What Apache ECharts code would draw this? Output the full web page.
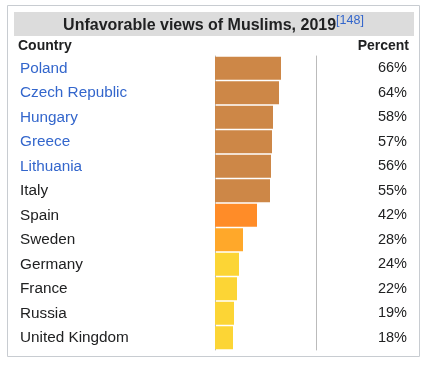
<!DOCTYPE html>
<html><head><meta charset="utf-8">
<script src="https://cdn.jsdelivr.net/npm/echarts@6/dist/echarts.min.js"></script>
<style>html,body{margin:0;padding:0;background:#fff}#c{width:427px;height:366px}</style>
</head><body><div id="c"></div>
<script>
const countries = ['Poland','Czech Republic','Hungary','Greece','Lithuania','Italy','Spain','Sweden','Germany','France','Russia','United Kingdom'];
const percents = [66,64,58,57,56,55,42,28,24,22,19,18];
const linked = [true,true,true,true,true,false,false,false,false,false,false,false];
const barColors = ['#CD8747','#CD8747','#CD8747','#CD8747','#CD8747','#CD8747','#FF8C28','#FFA82A','#FCD535','#FCD535','#FCD535','#FCD535'];
const title = 'Unfavorable views of Muslims, 2019';
const titleRef = '[148]';

const FONT = '"Liberation Sans", Arial, Helvetica, sans-serif';
const chart = echarts.init(document.getElementById('c'), null, {renderer:'canvas'});
chart.setOption({
  animation:false,
  textStyle:{fontFamily:FONT},
  grid:{left:213, top:56, width:103, height:294, containLabel:false, outerBoundsMode:'none'},
  xAxis:{type:'value', min:-2, max:101, show:false},
  yAxis:[{
    type:'category', inverse:true, position:'left',
    data: countries,
    axisLine:{show:true, lineStyle:{color:'#bbbbbb', width:1}},
    axisTick:{show:false},
    axisLabel:{
      margin:3, fontSize:15, fontFamily:FONT,
      formatter:(v)=>{ const i = countries.indexOf(v); return '{' + (linked[i] ? 'l' : 'n') + '|' + v + '}'; },
      rich:{
        l:{width:190, align:'left', color:'#3366CC', fontSize:15.3, fontFamily:FONT, padding:[1,0,0,0]},
        n:{width:190, align:'left', color:'#202122', fontSize:15.3, fontFamily:FONT, padding:[1,0,0,0]}
      }
    }
  },{
    type:'category', inverse:true, position:'right',
    data: percents.map(p=>p+'%'),
    axisLine:{show:true, lineStyle:{color:'#bbbbbb', width:1}},
    axisTick:{show:false},
    axisLabel:{align:'right', margin:91, fontSize:14.5, color:'#202122', fontFamily:FONT, padding:[1,0,0,0]}
  }],
  series:[{
    type:'bar', yAxisIndex:0, barWidth:23,
    data: percents.map((p,i)=>({value:p, itemStyle:{color:barColors[i]}})),
    silent:true
  }],
  graphic:[
    {type:'rect', shape:{x:7.5,y:5.5,width:412,height:351}, style:{fill:'none', stroke:'#c8ccd1', lineWidth:1}, z:-10},
    {type:'rect', shape:{x:14,y:12,width:400,height:24}, style:{fill:'#dcdcdc'}, z:-5},
    {type:'text', left:'center', top:14, style:{
      text:'{t|'+title+'}{s|'+titleRef+'}',
      rich:{
        t:{fontSize:16, fontWeight:'bold', fill:'#202122', fontFamily:FONT, verticalAlign:'bottom'},
        s:{fontSize:12.5, fill:'#3366CC', fontFamily:FONT, padding:[0,0,7,0], verticalAlign:'bottom'}
      }
    }},
    {type:'text', left:18, top:39, style:{text:'Country', font:'bold 14px '+FONT, fill:'#202122'}},
    {type:'text', right:18, top:39, style:{text:'Percent', font:'bold 14px '+FONT, fill:'#202122', textAlign:'right'}}
  ]
});
</script></body></html>
